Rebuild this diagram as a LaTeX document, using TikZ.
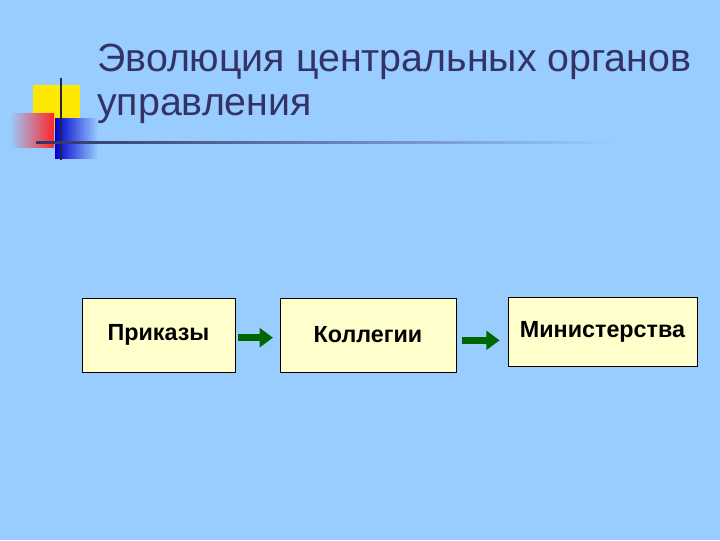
\documentclass[tikz,border=0pt]{standalone}
\usepackage{fontspec}
\setmainfont{Liberation Sans}
\usetikzlibrary{arrows.meta}
\definecolor{bg}{RGB}{153,204,255}
\definecolor{boxfill}{RGB}{255,255,204}
\definecolor{titlecol}{RGB}{51,51,102}
\definecolor{arrowgreen}{RGB}{0,102,0}
\begin{document}
\begin{tikzpicture}[x=0.75pt,y=-0.75pt,
  stage/.style={draw=black, fill=boxfill, line width=0.6pt, font=\bfseries\fontsize{17.5}{20}\selectfont},
  flow/.style={-{Triangle[length=10pt,width=14pt]}, line width=5.5pt, draw=arrowgreen}]
  % background
  \fill[bg] (0,0) rectangle (720,540);
  \useasboundingbox (0,0) rectangle (720,540);
  % corner decoration
  \fill[yellow!90!orange] (33,85) rectangle (80,130);
  \shade[left color=bg, right color=red!85] (10,113) rectangle (54,147);
  \shade[left color=blue!80!black, right color=bg] (55,118) rectangle (98,158);
  \draw[line width=1.5pt, titlecol!70!black] (61,78) -- (61,160);
  \shade[left color=titlecol, right color=bg] (36,141) rectangle (615,143.5);
  % title
  \node[anchor=west, text=titlecol, font=\fontsize{29.5}{32.5}\selectfont, align=left, inner sep=0pt] (title) at (97,84)
    {Эволюция центральных органов\\управления};
  % stages
  \node[stage, minimum width=114.75pt, minimum height=55.5pt] (prikazy) at (158.5,335) {Приказы};
  \node[stage, minimum width=132pt, minimum height=55.5pt] (kollegii) at (368,335) {Коллегии};
  \node[stage, minimum width=141.75pt, minimum height=51.75pt, anchor=north] (ministerstva) at (602.5,297) {Министерства};
  % arrows
  \draw[flow] ([xshift=2pt,yshift=-2pt]prikazy.east) -- ([xshift=-5pt,yshift=-2pt]kollegii.west);
  \draw[flow] ([xshift=4pt,yshift=-4pt]kollegii.east) -- ([xshift=-6pt,yshift=-4pt]kollegii.east -| ministerstva.west);
\end{tikzpicture}
\end{document}
